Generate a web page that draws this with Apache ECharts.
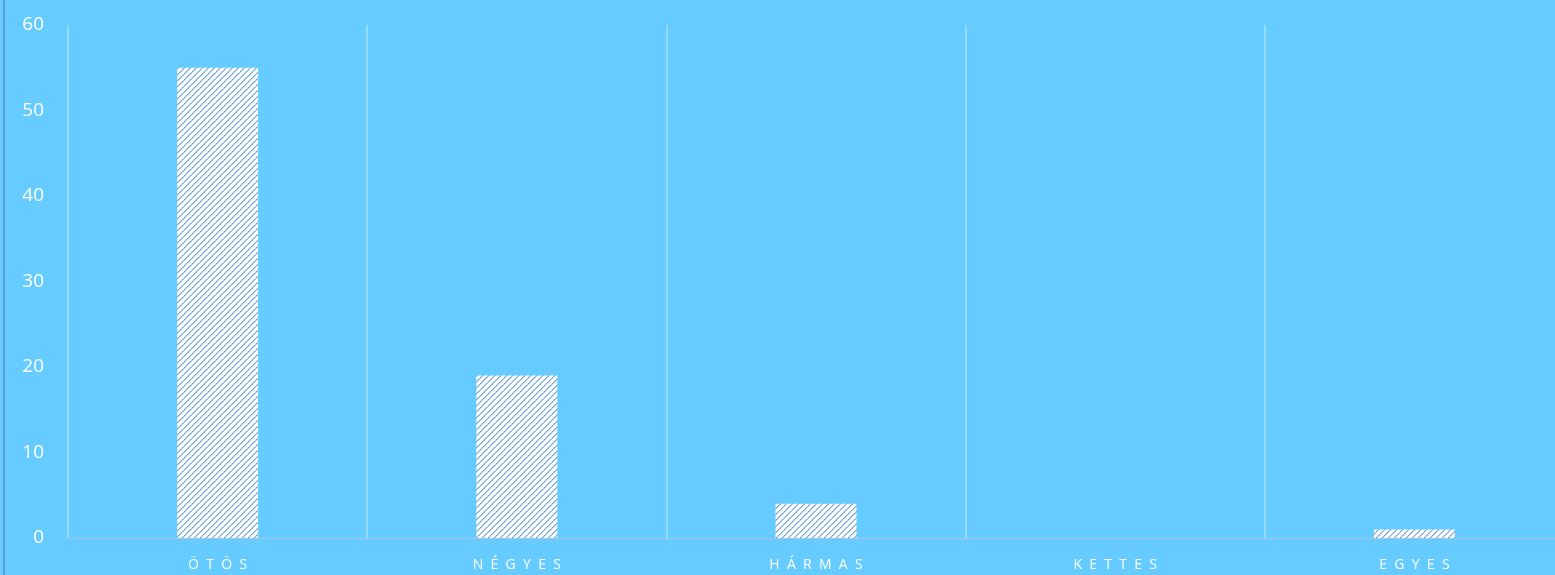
<!DOCTYPE html>
<html><head><meta charset="utf-8">
<script src="https://cdn.jsdelivr.net/npm/echarts@6/dist/echarts.min.js"></script>
<style>html,body{margin:0;padding:0;background:#66CCFF;}#c{width:1555px;height:575px;}</style>
</head><body><div id="c"></div>
<script>
var categories = ['ÖTÖS', 'NÉGYES', 'HÁRMAS', 'KETTES', 'EGYES'];
var values = [55, 19, 4, 0, 1];
var yTicks = [0, 10, 20, 30, 40, 50, 60];

var P = 6;
var tile = document.createElement('canvas');
tile.width = P; tile.height = P;
var g = tile.getContext('2d');
g.fillStyle = '#ffffff'; g.fillRect(0, 0, P, P);
for (var y = 0; y < P; y++) {
  for (var x = 0; x < P; x++) {
    var d = (x + y) % P;
    if (d === P - 1) { g.fillStyle = (y % 2) ? '#5b9bd5' : '#7db0e2'; g.fillRect(x, y, 1, 1); }
    else if (d === 0) { g.fillStyle = '#bcd6f2'; g.fillRect(x, y, 1, 1); }
  }
}

var chart = echarts.init(document.getElementById('c'));
chart.setOption({
  backgroundColor: '#66CCFF',
  animation: false,
  grid: {left: 68, width: 1496, top: 25, bottom: 37, containLabel: false, outerBoundsMode: 'none'},
  graphic: [{type: 'rect', shape: {x: 3, y: 0, width: 2, height: 575}, style: {fill: '#5b9bd5'}}],
  xAxis: {
    type: 'category', data: categories,
    axisLine: {show: true, lineStyle: {color: '#a9c2e4', width: 1}},
    axisTick: {show: false},
    splitLine: {show: true, interval: 0, lineStyle: {color: 'rgba(255,255,255,0.3)', width: 2}},
    axisLabel: {color: '#ffffff', fontFamily: 'Open Sans', fontSize: 14, margin: 20,
      formatter: function (v) { return v.split('').join('  '); }}
  },
  yAxis: {
    type: 'value', min: yTicks[0], max: yTicks[yTicks.length - 1], interval: 10,
    axisLine: {show: false}, axisTick: {show: false}, splitLine: {show: false},
    axisLabel: {color: '#ffffff', fontFamily: 'Open Sans', fontSize: 19, margin: 24}
  },
  series: [{
    type: 'bar', data: values, barWidth: 81,
    itemStyle: {color: {image: tile, repeat: 'repeat'}}
  }]
});
</script></body></html>
